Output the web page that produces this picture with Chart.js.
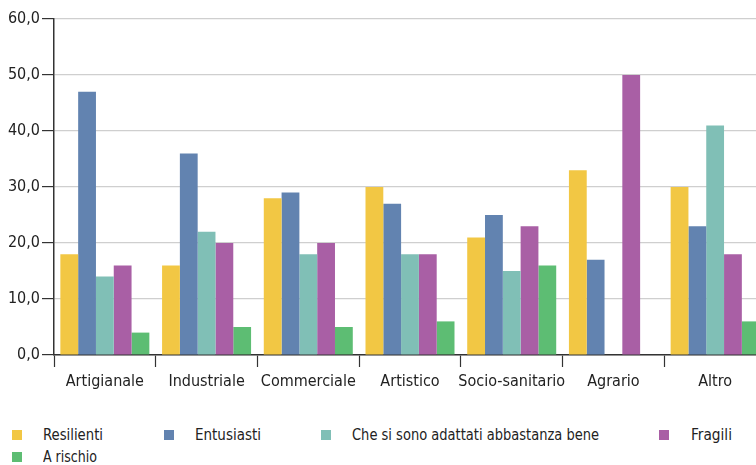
<!DOCTYPE html>
<html><head><meta charset="utf-8">
<script src="https://cdn.jsdelivr.net/npm/chart.js@4"></script>
<style>
html,body{margin:0;padding:0;background:#fff;overflow:hidden;width:756px;height:465px;}
#wrap{position:absolute;left:0;top:0;width:770px;height:400px;}
.leg{position:absolute;height:20px;}
.leg i{position:absolute;left:0;top:0;width:10px;height:10px;}
.leg span{position:absolute;top:-5px;font-family:"DejaVu Sans Condensed","DejaVu Sans",sans-serif;font-stretch:condensed;font-size:16px;color:#222;white-space:nowrap;line-height:20px;transform-origin:0 50%;}
</style></head><body>
<div id="wrap"><canvas id="c" width="770" height="400"></canvas></div>
<div id="legend"></div>
<script>
const categories = ["Artigianale","Industriale","Commerciale","Artistico","Socio-sanitario","Agrario","Altro"];
const seriesNames = ["Resilienti","Entusiasti","Che si sono adattati abbastanza bene","Fragili","A rischio"];
const resilienti = [18,16,28,30,21,33,30];
const entusiasti = [47,36,29,27,25,17,23];
const adattati   = [14,22,18,18,15,0,41];
const fragili    = [16,20,20,18,23,50,18];
const aRischio   = [4,5,5,6,16,0,6];
const yTickLabels = ["0,0","10,0","20,0","30,0","40,0","50,0","60,0"];

const colors = ["#F2C744","#6283B0","#80BFB6","#A95FA5","#5DBD73"];
const values = [resilienti,entusiasti,adattati,fragili,aRischio];
const FONT = '"DejaVu Sans Condensed","DejaVu Sans",sans-serif';

new Chart(document.getElementById('c'), {
  type:'bar',
  data:{
    labels:categories,
    datasets:values.map((v,i)=>({label:seriesNames[i],data:v,backgroundColor:colors[i],borderWidth:0,categoryPercentage:0.875,barPercentage:1.0}))
  },
  options:{
    responsive:false,animation:false,
    layout:{padding:{top:19,right:4,left:0,bottom:0}},
    plugins:{legend:{display:false},tooltip:{enabled:false}},
    scales:{
      x:{
        grid:{display:true,drawOnChartArea:false,offset:true,tickLength:12,tickColor:'#333',tickWidth:1.2},
        border:{display:true,color:'#333',width:1.5},
        ticks:{color:'#222',font:{family:FONT,size:16},padding:5,maxRotation:0,autoSkip:false},
        afterFit:s=>{s.height=45;}
      },
      y:{
        min:0,max:60,
        grid:{color:'#cfcfcf',lineWidth:1.2,tickLength:12,tickColor:'#333'},
        border:{display:true,color:'#333',width:1.5},
        ticks:{stepSize:10,color:'#222',font:{family:FONT,size:16},padding:2,
          callback:(v)=>yTickLabels[Math.round(v/10)]},
        afterFit:s=>{s.width=54;}
      }
    }
  }
});

const legMarkX=[12,164,321,659,12];
const legTextX=[43,195,352,691,43];
const legTextW=[60,66,247,41,54];
const legY=[430,430,430,430,452];
const lg=document.getElementById('legend');
seriesNames.forEach((n,i)=>{
  const d=document.createElement('div');d.className='leg';
  d.style.left=legMarkX[i]+'px';d.style.top=legY[i]+'px';
  d.innerHTML='<i style="background:'+colors[i]+'"></i><span style="left:'+(legTextX[i]-legMarkX[i])+'px">'+n+'</span>';
  lg.appendChild(d);
  const sp=d.querySelector('span');
  const w=sp.getBoundingClientRect().width;
  if(w>0) sp.style.transform='scaleX('+(legTextW[i]/w)+')';
});
</script>
</body></html>
